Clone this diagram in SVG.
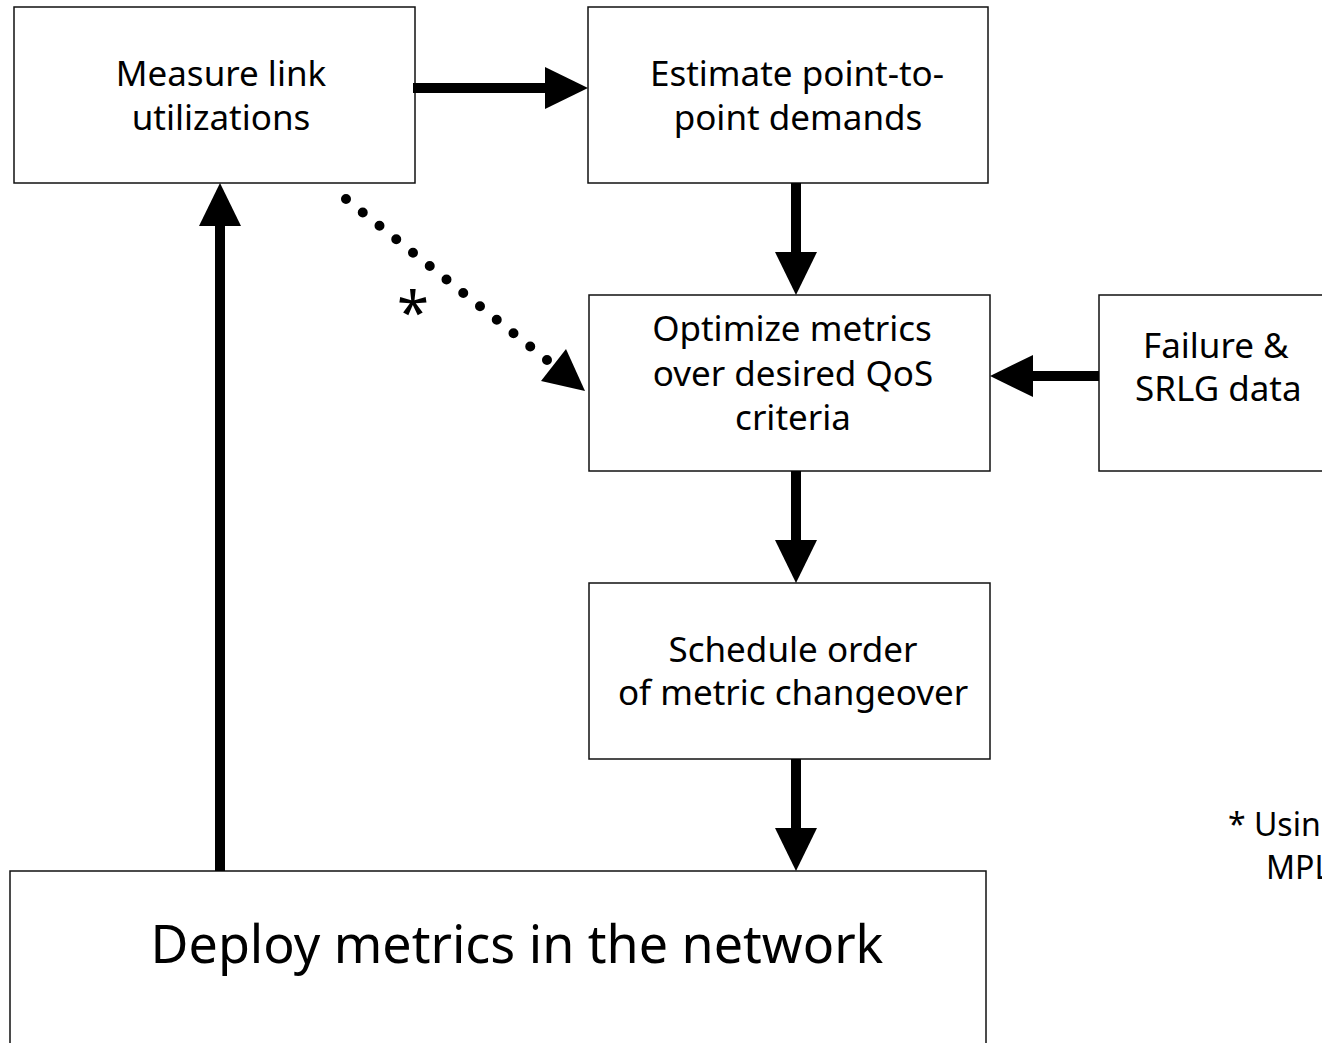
<svg xmlns="http://www.w3.org/2000/svg" width="1322" height="1043" viewBox="0 0 1322 1043">
<style>
.box{fill:#fff;stroke:#111;stroke-width:1.5}
.t{font-family:"Noto Sans","DejaVu Sans",sans-serif;font-size:35px;fill:#000;text-anchor:middle}
.big{font-size:52px}
.st{text-anchor:start}
.note{font-size:32px}
.conn{stroke:#000;stroke-width:10;fill:none}
.dot{stroke:#000;stroke-width:10;fill:none;stroke-linecap:round;stroke-dasharray:0 21.46}
</style>
<defs>
<marker id="ah" markerUnits="userSpaceOnUse" markerWidth="44" markerHeight="44" viewBox="0 -22 44 44" refX="0" refY="0" orient="auto">
<path d="M0,-21 L43,0 L0,21 Z" fill="#000"/>
</marker>
</defs>
<rect width="1322" height="1043" fill="#fff"/>
<g id="n1"><rect class="box" x="14" y="7" width="401" height="176"/>
<text class="t" x="221" y="86">Measure link</text><text class="t" x="221" y="130">utilizations</text></g>
<g id="n2"><rect class="box" x="588" y="7" width="400" height="176"/>
<text class="t" x="797" y="86">Estimate point-to-</text><text class="t" x="798" y="130">point demands</text></g>
<g id="n3"><rect class="box" x="589" y="295" width="401" height="176"/>
<text class="t" x="792" y="341">Optimize metrics</text><text class="t" x="793" y="386">over desired QoS</text><text class="t" x="793" y="430">criteria</text></g>
<g id="n4"><rect class="box" x="1099" y="295" width="240" height="176"/>
<text class="t st" x="1143" y="358">Failure &amp;</text><text class="t st" x="1135" y="401">SRLG data</text></g>
<g id="n5"><rect class="box" x="589" y="583" width="401" height="176"/>
<text class="t" x="793" y="662">Schedule order</text><text class="t" x="793" y="705">of metric changeover</text></g>
<g id="n6"><rect class="box" x="10" y="871" width="976" height="190"/>
<text class="t big" x="517" y="963">Deploy metrics in the network</text></g>
<g id="note"><text class="t st note" x="1228" y="836">* Usin</text><text class="t st note" x="1266" y="879">MPL</text></g>
<g id="connectors">
<line class="conn" x1="413" y1="88" x2="545" y2="88" marker-end="url(#ah)"/>
<line class="conn" x1="796" y1="183" x2="796" y2="252" marker-end="url(#ah)"/>
<line class="conn" x1="796" y1="471" x2="796" y2="540" marker-end="url(#ah)"/>
<line class="conn" x1="796" y1="759" x2="796" y2="828" marker-end="url(#ah)"/>
<line class="conn" x1="1099" y1="376" x2="1033" y2="376" marker-end="url(#ah)"/>
<line class="conn" x1="220" y1="871" x2="220" y2="226" marker-end="url(#ah)"/>
<line class="dot" x1="346" y1="199" x2="547" y2="360"/>
<polygon points="566,349 541,381 585,391" fill="#000"/>
<text class="t" x="413" y="334" style="font-size:58px">*</text>
</g>
</svg>
